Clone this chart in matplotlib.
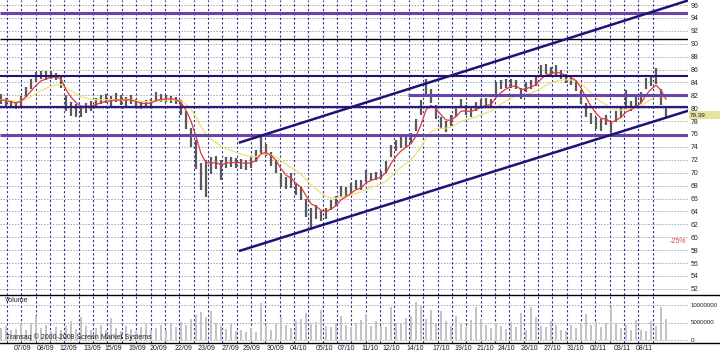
"""
Transaq style price chart: bars, two moving averages, drawn levels, trend channel, volume.
"""

import matplotlib
import matplotlib.pyplot as plt
import matplotlib.transforms as mtransforms
from matplotlib.lines import Line2D
from matplotlib.patches import Rectangle
import pandas as pd

matplotlib.use("Agg")

plt.rcParams["font.family"] = ["Liberation Sans", "DejaVu Sans"]

# price bars
close = [
    81.3, 81.0, 80.7, 80.5, 81.5, 82.8, 84.0, 84.8, 85.3, 85.0,
    85.2, 84.9, 84.0, 80.4, 80.0, 79.6, 79.5, 80.2, 80.4, 80.9,
    81.3, 81.4, 81.2, 81.5, 81.3, 81.2, 81.4, 80.6, 80.4, 80.6,
    80.9, 81.9, 81.5, 81.6, 81.4, 81.3, 80.0, 78.0, 75.5, 72.0,
    69.0, 69.5, 71.3, 71.8, 70.6, 71.9, 71.7, 71.6, 71.5, 71.3,
    71.6, 72.5, 74.5, 73.4, 72.0, 70.8, 68.6, 68.2, 68.4, 67.2,
    66.8, 64.5, 63.3, 64.2, 63.3, 63.6, 65.0, 65.6, 67.2, 67.0,
    67.6, 68.2, 68.0, 69.6, 69.4, 69.5, 69.7, 71.0, 73.6, 74.2,
    74.6, 74.8, 75.3, 77.5, 80.0, 83.2, 81.5, 79.2, 77.5, 77.0,
    78.0, 79.6, 80.8, 79.6, 79.4, 80.2, 80.7, 80.9, 80.7, 83.3,
    83.6, 83.8, 83.9, 83.7, 82.0, 83.2, 83.7, 84.2, 85.8, 86.1,
    85.6, 85.9, 85.2, 84.6, 84.3, 83.5, 81.5, 79.4, 78.3, 77.6,
    77.2, 78.2, 77.0, 78.6, 79.3, 80.6, 80.3, 80.9, 81.7, 83.9,
    84.3, 84.5, 81.6, 79.39,
]
high = [
    82.2, 81.6, 81.3, 81.0, 81.9, 83.3, 84.6, 85.6, 85.8, 85.7,
    85.8, 85.4, 84.9, 82.0, 80.9, 80.6, 80.4, 80.8, 81.1, 81.6,
    82.0, 82.2, 81.9, 82.3, 82.0, 81.8, 82.0, 81.4, 81.0, 81.3,
    81.5, 82.5, 82.2, 82.1, 81.9, 81.8, 81.2, 79.5, 77.0, 75.0,
    71.5, 72.0, 72.5, 72.6, 72.0, 72.5, 72.4, 72.3, 72.2, 72.0,
    72.4, 73.5, 75.5, 74.5, 73.2, 72.0, 69.9, 69.3, 70.0, 68.3,
    67.8, 66.0, 64.5, 65.0, 64.0, 64.5, 65.8, 66.4, 68.0, 67.8,
    68.4, 68.9, 68.8, 70.4, 70.0, 70.1, 70.3, 71.8, 74.3, 75.1,
    75.5, 75.6, 76.1, 78.4, 81.2, 84.6, 83.0, 80.5, 78.6, 78.0,
    78.9, 80.4, 81.5, 80.5, 80.2, 81.0, 81.5, 81.6, 81.4, 84.1,
    84.4, 84.5, 84.5, 84.3, 83.2, 84.0, 84.4, 85.0, 86.7, 86.8,
    86.4, 86.7, 86.0, 85.3, 85.0, 84.3, 82.8, 80.8, 79.3, 78.6,
    78.3, 79.0, 78.0, 79.5, 80.2, 82.8, 81.1, 81.7, 82.5, 84.7,
    85.0, 86.2, 83.0, 80.3,
]
low = [
    80.6, 80.3, 80.1, 79.9, 80.2, 81.8, 82.9, 84.0, 84.5, 84.4,
    84.6, 84.3, 83.2, 79.6, 78.8, 78.6, 78.7, 79.3, 79.6, 80.2,
    80.6, 80.8, 80.4, 80.9, 80.5, 80.3, 80.7, 80.0, 79.8, 80.0,
    80.2, 81.0, 80.9, 81.0, 80.8, 80.6, 79.0, 76.8, 74.0, 70.5,
    67.3, 66.2, 69.8, 70.5, 68.9, 70.8, 70.9, 70.7, 70.6, 70.4,
    70.8, 71.6, 73.0, 72.6, 71.0, 70.0, 67.8, 67.5, 67.6, 66.5,
    65.8, 63.2, 61.1, 62.8, 62.5, 62.8, 64.2, 64.8, 66.3, 66.3,
    66.8, 67.4, 67.3, 68.6, 68.7, 68.9, 69.0, 69.9, 72.4, 73.4,
    73.8, 74.0, 74.6, 76.5, 79.0, 82.0, 80.8, 78.4, 76.8, 76.3,
    77.2, 78.7, 80.0, 78.9, 78.7, 79.5, 80.0, 80.2, 80.0, 82.2,
    82.9, 83.1, 83.2, 83.0, 81.4, 82.5, 83.0, 83.5, 85.0, 85.3,
    84.9, 85.1, 84.5, 83.9, 83.6, 82.6, 80.6, 78.6, 77.5, 76.8,
    76.5, 77.4, 76.1, 77.8, 78.5, 79.8, 79.6, 80.1, 80.8, 82.9,
    83.5, 83.7, 80.5, 78.6,
]
# volume, millions
volume = [
    3.5, 4.0, 2.8, 3.2, 4.5, 3.0, 5.0, 7.0, 3.5, 4.2,
    2.5, 3.8, 3.0, 4.0, 5.5, 3.2, 6.7, 4.0, 2.8, 3.5,
    4.2, 3.0, 6.4, 3.5, 2.6, 4.0, 3.2, 2.5, 3.8, 4.6,
    2.8, 3.4, 4.2, 3.0, 4.8, 3.6, 5.2, 4.4, 6.0, 7.2,
    8.0, 6.5, 8.2, 5.0, 4.0, 3.2, 4.6, 2.5, 3.0, 2.2,
    3.5, 2.4, 10.5, 4.2, 3.0, 5.0, 6.6, 4.2, 3.5, 5.5,
    6.0, 7.7, 4.5, 5.2, 8.6, 4.0, 3.6, 5.0, 7.0, 4.4,
    3.8, 5.0, 5.8, 7.5, 4.0, 5.5, 4.0, 3.8, 9.4, 5.0,
    4.6, 6.2, 7.0, 11.0, 10.0, 6.0, 8.6, 5.0, 8.4, 5.5,
    4.0, 6.8, 4.5, 3.6, 5.8, 9.5, 6.0, 4.2, 3.5, 5.0,
    4.0, 3.2, 5.2, 3.8, 7.7, 3.0, 9.4, 6.5, 4.0, 3.8,
    5.5, 4.2, 3.0, 2.6, 4.2, 3.5, 5.0, 7.5, 4.4, 5.5,
    3.8, 4.8, 9.4, 5.0, 3.5, 4.2, 2.8, 5.6, 3.0, 2.6,
    5.5, 4.0, 9.4, 6.0,
]

date_labels = [
    "07/09", "08/09", "12/09", "13/09", "15/09", "19/09", "20/09", "22/09",
    "23/09", "27/09", "29/09", "30/09", "04/10", "05/10", "07/10", "11/10",
    "12/10", "14/10", "17/10", "19/10", "21/10", "24/10", "26/10", "27/10",
    "31/10", "02/11", "03/11", "08/11",
]
# label centres in pixels of the original picture
date_label_px = [
    23, 46, 68, 92, 113, 137, 158, 184, 207, 230, 252, 276, 299, 324,
    347, 370, 391, 415, 441, 463, 485, 506, 529, 552, 575, 598, 622, 644,
]

# drawn horizontal levels and the bar they start at
levels = [94.75, 90.7, 85.0, 82.05, 80.2, 75.9]
level_start = [None, None, None, 81.4, None, None]

# trend channel (bar index, price)
channel_x = [47.8, 137.4]
channel_upper = [74.7, 96.7]
channel_lower = [57.9, 79.6]

last_price = 79.39

# ---- layout ----
W, H = 720, 352
PLOT_R = 688
SEP_Y = 295
BOT_Y = 343
X_MIN, X_MAX = -0.2, 137.4

NAVY = "#1e1278"
PURPLE = "#6a44a8"
level_colors = [PURPLE, "#000000", NAVY, PURPLE, "#2c1a80", PURPLE]
level_widths = [2.2, 1.0, 1.5, 2.2, 1.6, 2.2]


def px_to_bar(px):
    return (px - 1) / 5.0


fig = plt.figure(figsize=(W / 100, H / 100), dpi=100)
ax = fig.add_axes([0, 1 - SEP_Y / H, PLOT_R / W, SEP_Y / H])
ax_v = fig.add_axes([0, 1 - BOT_Y / H, PLOT_R / W, (BOT_Y - SEP_Y) / H])

x = list(range(len(close)))
s = pd.Series(close)
ma_fast = s.ewm(span=4, adjust=False).mean()
ma_slow = s.ewm(span=12, adjust=False).mean()

# grid
for yv in range(52, 97, 2):
    ax.axhline(yv, color="#a8a8a8", lw=0.7, ls=(0, (1.5, 1.5)), zorder=0)
for yv in [0, 5, 10]:
    ax_v.axhline(yv, color="#a8a8a8", lw=0.7, ls=(0, (1.5, 1.5)), zorder=0)
for k in range(46):
    xv = px_to_bar(7 + 14.35 * k)
    for a in (ax, ax_v):
        a.axvline(xv, color="#3030a0", lw=0.8, ls=(0, (2, 2)), zorder=0.5)

# price bars and averages
ax.vlines(x, low, high, color="#5a5a5a", lw=1.6, zorder=2)
ax.plot(x, ma_slow, color="#f0e070", lw=0.9, zorder=3)
ax.plot(x, ma_fast, color="#e03a3a", lw=0.9, zorder=3)

# drawn levels
for lvl, start, c, lw in zip(levels, level_start, level_colors, level_widths):
    x0 = X_MIN if start is None else start
    ax.plot([x0, X_MAX], [lvl, lvl], color=c, lw=lw, zorder=4, solid_capstyle="butt")

ax.plot(channel_x, channel_upper, color=NAVY, lw=1.8, zorder=4)
ax.plot(channel_x, channel_lower, color=NAVY, lw=1.8, zorder=4)

ax.set_xlim(X_MIN, X_MAX)
ax.set_ylim(96 - (SEP_Y - 5) / 6.45, 96 + 5 / 6.45)
ax.yaxis.tick_right()
ax.set_yticks(range(52, 97, 2))
ax.tick_params(axis="y", length=0, pad=2, labelsize=5, colors="#202020")
ax.set_xticks([])
for sp in ax.spines.values():
    sp.set_visible(False)

trans = mtransforms.blended_transform_factory(ax.transAxes, ax.transData)
ax.text(0.998, 59.4, "-25%", transform=trans, ha="right", va="center",
        fontsize=5, color="#e04848")

# last price box, just under the "80" label
box_top = 111.5
box_h = 7.5
box_y = (H - box_top - box_h) / H
fig.patches.append(Rectangle((689 / W, box_y), 31 / W, box_h / H, transform=fig.transFigure,
                             facecolor="#e4e4a0", edgecolor="none", zorder=5))
fig.text(690 / W, box_y + box_h / 2 / H, f"{last_price:.2f}", fontsize=4.6, va="center",
         ha="left", color="#202020", zorder=6)

# volume
ax_v.bar(x, volume, width=0.5, color="#c4c4c4", zorder=2)
ax_v.set_xlim(X_MIN, X_MAX)
ax_v.set_ylim(-(BOT_Y - 340) / 3.5, (340 - SEP_Y) / 3.5)
ax_v.yaxis.tick_right()
ax_v.set_yticks([0, 5, 10])
ax_v.set_yticklabels(["0", "5000000", "10000000"])
ax_v.tick_params(axis="y", length=0, pad=2, labelsize=4.4, colors="#202020")
ax_v.set_xticks([px_to_bar(p) for p in date_label_px])
ax_v.set_xticklabels(date_labels)
ax_v.tick_params(axis="x", length=0, pad=1.5, labelsize=5, colors="#202020")
for sp in ax_v.spines.values():
    sp.set_visible(False)

ax_v.text(5 / PLOT_R, (BOT_Y - 301) / (BOT_Y - SEP_Y), "Volume", transform=ax_v.transAxes,
          fontsize=5, va="center", ha="left", color="#202020")
ax_v.text(6 / PLOT_R, (BOT_Y - 337) / (BOT_Y - SEP_Y),
          "Transaq \u00a9 2000-2008 Screen Market Systems", transform=ax_v.transAxes,
          fontsize=5, va="center", ha="left", color="#202020", zorder=5)

for yp in (SEP_Y, BOT_Y):
    fig.lines.append(Line2D([0, 1], [1 - yp / H] * 2, transform=fig.transFigure,
                            color="#000000", lw=1.0))

fig.savefig("out.png", dpi=100)
plt.close(fig)
